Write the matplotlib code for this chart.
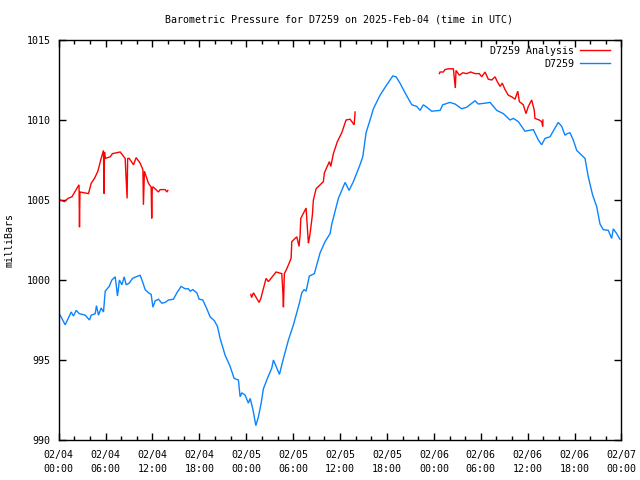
import numpy as np
import matplotlib
matplotlib.use("Agg")
import matplotlib.pyplot as plt
from matplotlib.ticker import MultipleLocator

# hours since 2025-02-04 00:00 UTC
station_hours = [0.19, 0.83, 1.6, 1.89, 2.24, 2.62, 3.39, 3.94, 4.16, 4.67, 4.83, 5.09, 5.43, 5.73,
                 5.95, 6.46, 6.8, 7.23, 7.52, 7.77, 8.08, 8.38, 8.63, 9.02, 9.44, 9.91, 10.42, 10.72,
                 11.06, 11.48, 11.83, 12.05, 12.34, 12.76, 13.2, 13.62, 14.04, 14.68, 15.12, 15.66,
                 16.18, 16.6, 16.82, 17.16, 17.67, 17.97, 18.44, 18.95, 19.37, 19.92, 20.31, 20.65,
                 21.29, 21.93, 22.44, 22.99, 23.21, 23.43, 23.85, 24.27, 24.49, 24.83, 25.22, 25.55,
                 25.9, 26.19, 26.7, 27.26, 27.47, 27.9, 28.24, 28.75, 29.39, 30.03, 30.79,
                 31.1, 31.39, 31.65, 32.07, 32.71, 33.44, 34.08, 34.72, 34.94, 35.78, 36.64, 37.15,
                 37.7, 38.47, 38.9, 39.32, 39.83, 40.26, 41.11, 41.97, 42.74, 43.16, 43.67, 44.31,
                 45.17, 45.81, 46.23, 46.65, 47.08, 47.72, 48.79,
                 49.13, 50.06, 50.7, 51.56, 52.2, 53.26, 53.68, 54.54, 55.18, 56.04, 56.88, 57.74,
                 58.16, 58.8, 59.65, 60.72, 61.36, 61.79, 62.21, 62.85, 63.91, 64.35, 64.77, 65.06,
                 65.41, 65.83, 66.27, 67.33, 67.75, 68.31, 68.82, 69.25, 69.67, 70.31, 70.74, 70.95,
                 71.38, 71.8]
station_mb = [997.8, 997.2, 998.0, 997.75, 998.1, 997.9, 997.8, 997.5, 997.8, 997.9, 998.4, 997.8,
              998.25, 998.0, 999.3, 999.6, 1000.0, 1000.2, 999.0, 1000.0, 999.7, 1000.2, 999.7,
              999.8, 1000.1, 1000.2, 1000.3, 999.9, 999.4, 999.2, 999.1, 998.3, 998.7, 998.8,
              998.55, 998.6, 998.75, 998.8, 999.2, 999.6, 999.45, 999.45, 999.3, 999.4, 999.2,
              998.8, 998.75, 998.2, 997.7, 997.45, 997.1, 996.35,
              995.3, 994.6, 993.85, 993.75, 992.7, 992.95, 992.8, 992.3, 992.6, 991.95, 990.9,
              991.45, 992.3, 993.2, 993.85, 994.5, 995.0, 994.5, 994.1, 995.1, 996.25, 997.2, 998.55,
              999.2, 999.4, 999.3, 1000.25, 1000.4, 1001.7, 1002.4, 1002.9, 1003.5, 1005.1, 1006.1,
              1005.6, 1006.15, 1007.1, 1007.7, 1009.2, 1010.0, 1010.7, 1011.55, 1012.2, 1012.75,
              1012.7, 1012.3, 1011.7, 1010.95, 1010.85, 1010.6, 1010.95, 1010.8, 1010.55, 1010.6,
              1010.95, 1011.1, 1011.0, 1010.7, 1010.8, 1011.2, 1011.0, 1011.05, 1011.1, 1010.6,
              1010.4, 1010.0, 1010.1, 1009.9, 1009.3, 1009.4, 1008.75, 1008.45, 1008.85, 1008.95,
              1009.85, 1009.6, 1009.05, 1009.15, 1009.2, 1008.75, 1008.1, 1007.6, 1006.45, 1005.3,
              1004.6, 1003.5, 1003.15, 1003.1, 1002.6, 1003.2, 1002.9, 1002.55]

analysis1_hours = [0.05, 0.19, 0.74, 1.18, 1.69, 2.6, 2.66, 2.72, 3.81, 4.16, 4.58, 5.01, 5.43, 5.73,
                   5.8, 5.86, 5.95, 6.59, 6.88, 7.86, 8.5, 8.75, 8.82, 9.02, 9.57, 9.91, 10.42, 10.77,
                   10.84, 10.97, 11.48, 11.83, 11.9, 11.97, 12.12, 12.76, 12.98, 13.62, 13.84, 13.96]
analysis1_mb = [1005.05, 1005.0, 1004.9, 1005.1, 1005.2, 1005.95, 1003.3, 1005.5, 1005.4, 1006.05,
                1006.35, 1006.8, 1007.6, 1008.1, 1005.4, 1008.0, 1007.6, 1007.7, 1007.9, 1008.0,
                1007.6, 1005.1, 1007.6, 1007.6, 1007.2, 1007.65, 1007.3, 1006.9, 1004.7, 1006.8,
                1006.05, 1005.8, 1003.85, 1005.8, 1005.8, 1005.5, 1005.65, 1005.65, 1005.5, 1005.6]

analysis2_hours = [24.58, 24.68, 24.91, 25.64, 25.86, 26.53, 26.83, 27.81, 28.54, 28.68, 28.75, 28.87,
                   29.18, 29.73, 29.82, 30.46, 30.75, 30.88, 30.97, 31.65, 31.9, 31.95, 32.16, 32.45,
                   32.58, 32.93, 33.86, 33.99, 34.63, 34.81, 35.14, 35.65, 36.21, 36.76, 37.28, 37.79,
                   37.85, 37.92]
analysis2_mb = [999.1, 998.9, 999.2, 998.6, 998.85, 1000.1, 999.9, 1000.5, 1000.4, 999.2, 998.3,
                1000.4, 1000.7, 1001.35, 1002.4, 1002.7, 1002.1, 1002.8, 1003.85, 1004.5, 1002.6,
                1002.3, 1002.9, 1004.05, 1005.0, 1005.7, 1006.15, 1006.7, 1007.4, 1007.1, 1007.9,
                1008.65, 1009.2, 1010.0, 1010.05, 1009.7, 1010.05, 1010.5]

analysis3_hours = [48.7, 48.79, 49.21, 49.42, 49.85, 50.49, 50.74, 50.83, 51.25, 51.69, 52.2, 52.71,
                   53.26, 53.81, 54.12, 54.54, 54.96, 55.4, 55.82, 56.11, 56.46, 56.75, 57.1, 57.52,
                   57.95, 58.38, 58.73, 58.93, 59.44, 59.78, 60.08, 60.51, 60.84, 60.93, 61.48, 61.79,
                   61.92, 61.95]
analysis3_mb = [1012.9, 1013.0, 1013.0, 1013.15, 1013.2, 1013.2, 1012.0, 1013.1, 1012.8, 1012.95,
                1012.9, 1013.0, 1012.9, 1012.9, 1012.7, 1013.0, 1012.55, 1012.5, 1012.7, 1012.4,
                1012.1, 1012.3, 1011.9, 1011.55, 1011.45, 1011.3, 1011.8, 1011.15, 1010.95, 1010.4,
                1010.85, 1011.25, 1010.6, 1010.1, 1010.0, 1009.9, 1009.6, 1010.0]

tick_hours = list(range(0, 73, 6))
tick_labels = ["02/04\n00:00", "02/04\n06:00", "02/04\n12:00", "02/04\n18:00",
               "02/05\n00:00", "02/05\n06:00", "02/05\n12:00", "02/05\n18:00",
               "02/06\n00:00", "02/06\n06:00", "02/06\n12:00", "02/06\n18:00",
               "02/07\n00:00"]
y_ticks = [990, 995, 1000, 1005, 1010, 1015]

title = "Barometric Pressure for D7259 on 2025-Feb-04 (time in UTC)"
ylabel = "milliBars"

plt.rcParams['font.family'] = ['DejaVu Sans Mono']
FS = 7.2

fig = plt.figure(figsize=(6.4, 4.8), dpi=100)
W, H = 640, 480
left, right, top, bottom = 58.7, 621.5, 40, 440
ax = fig.add_axes([left / W, 1 - bottom / H, (right - left) / W, (bottom - top) / H])

nan = np.nan
a_h = analysis1_hours + [nan] + analysis2_hours + [nan] + analysis3_hours
a_v = analysis1_mb + [nan] + analysis2_mb + [nan] + analysis3_mb
ax.plot(a_h, a_v, color='#ff0000', lw=1.0, label='D7259 Analysis', solid_joinstyle='miter')
ax.plot(station_hours, station_mb, color='#0a84ff', lw=1.0, label='D7259', solid_joinstyle='miter')

ax.set_xlim(0, 72)
ax.set_ylim(990, 1015)
ax.set_xticks(tick_hours)
ax.set_xticklabels(tick_labels, fontsize=FS, linespacing=1.45)
ax.xaxis.set_minor_locator(MultipleLocator(2))
ax.set_yticks(y_ticks)
ax.set_yticklabels([str(v) for v in y_ticks], fontsize=FS)
ax.tick_params(which='both', direction='in', top=True, right=True, width=1.0, color='black')
ax.tick_params(which='major', length=5)
ax.tick_params(axis='y', which='minor', left=False, right=False)
ax.tick_params(axis='x', which='minor', length=3)
ax.tick_params(axis='x', which='major', pad=7.5)
ax.tick_params(axis='y', which='major', pad=6)
for s in ax.spines.values():
    s.set_linewidth(1.0)

fig.text(0.5303, 1 - 19 / H, title, ha='center', va='center', fontsize=FS)
fig.text(10 / W, 0.5, ylabel, rotation=90, ha='center', va='center', fontsize=FS)

ax.legend(loc='upper right', bbox_to_anchor=(1.0 - 6.5 / 563, 1.0 - 1.0 / 400), frameon=False,
          markerfirst=False, fontsize=FS, handlelength=3.0, handletextpad=0.6, labelspacing=0.3,
          borderaxespad=0.3, borderpad=0.2)

fig.savefig("out.png", dpi=100)
